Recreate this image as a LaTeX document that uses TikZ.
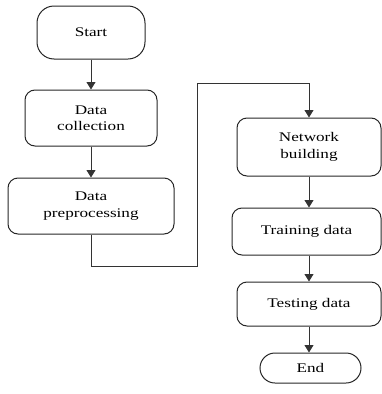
\documentclass[tikz,border=0pt]{standalone}
\usepackage{fontspec}
\setmainfont{Liberation Serif}[FakeStretch=1.3]
\usetikzlibrary{arrows.meta}
\begin{document}
\begin{tikzpicture}[x=1pt,y=1pt,
  box/.style={draw=black!85, line width=1pt, rounded corners=10pt, align=center,
    inner sep=0pt, font=\fontsize{13.2}{16.5}\selectfont},
  conn/.style={draw=black!80, line width=1pt, -{Triangle[width=9pt,length=7.5pt]}}]
\useasboundingbox (0,0) rectangle (382,-394);
\node[box, rounded corners=17pt, minimum width=108pt, minimum height=53pt] (st) at (91,-32.5) {Start};
\node[box, minimum width=132pt, minimum height=56pt] (dc) at (91,-118) {Data\\collection};
\node[box, minimum width=166pt, minimum height=56pt] (dp) at (91,-206) {Data\\preprocessing};
\node[box, minimum width=144pt, minimum height=58pt] (nb) at (309,-147) {Network\\building};
\node[box, minimum width=149pt, minimum height=47pt] (tr) at (306.5,-231.5) {Training data};
\node[box, minimum width=144pt, minimum height=44pt] (te) at (309,-304) {Testing data};
\node[box, rounded corners=15pt, minimum width=101pt, minimum height=30pt] (en) at (310.5,-368) {End};
\coordinate (k1) at (197,-266);
\coordinate (k2) at (197,-83);
\draw[conn] (st.south) -- (st.south |- dc.north);
\draw[conn] (dc.south) -- (dc.south |- dp.north);
\draw[conn] (dp.south) |- (k1) -- (k2) -| (nb.north);
\draw[conn] (nb.south) -- (nb.south |- tr.north);
\draw[conn] (nb.south |- tr.south) -- (nb.south |- te.north);
\draw[conn] (te.south) -- (te.south |- en.north);
\end{tikzpicture}
\end{document}
